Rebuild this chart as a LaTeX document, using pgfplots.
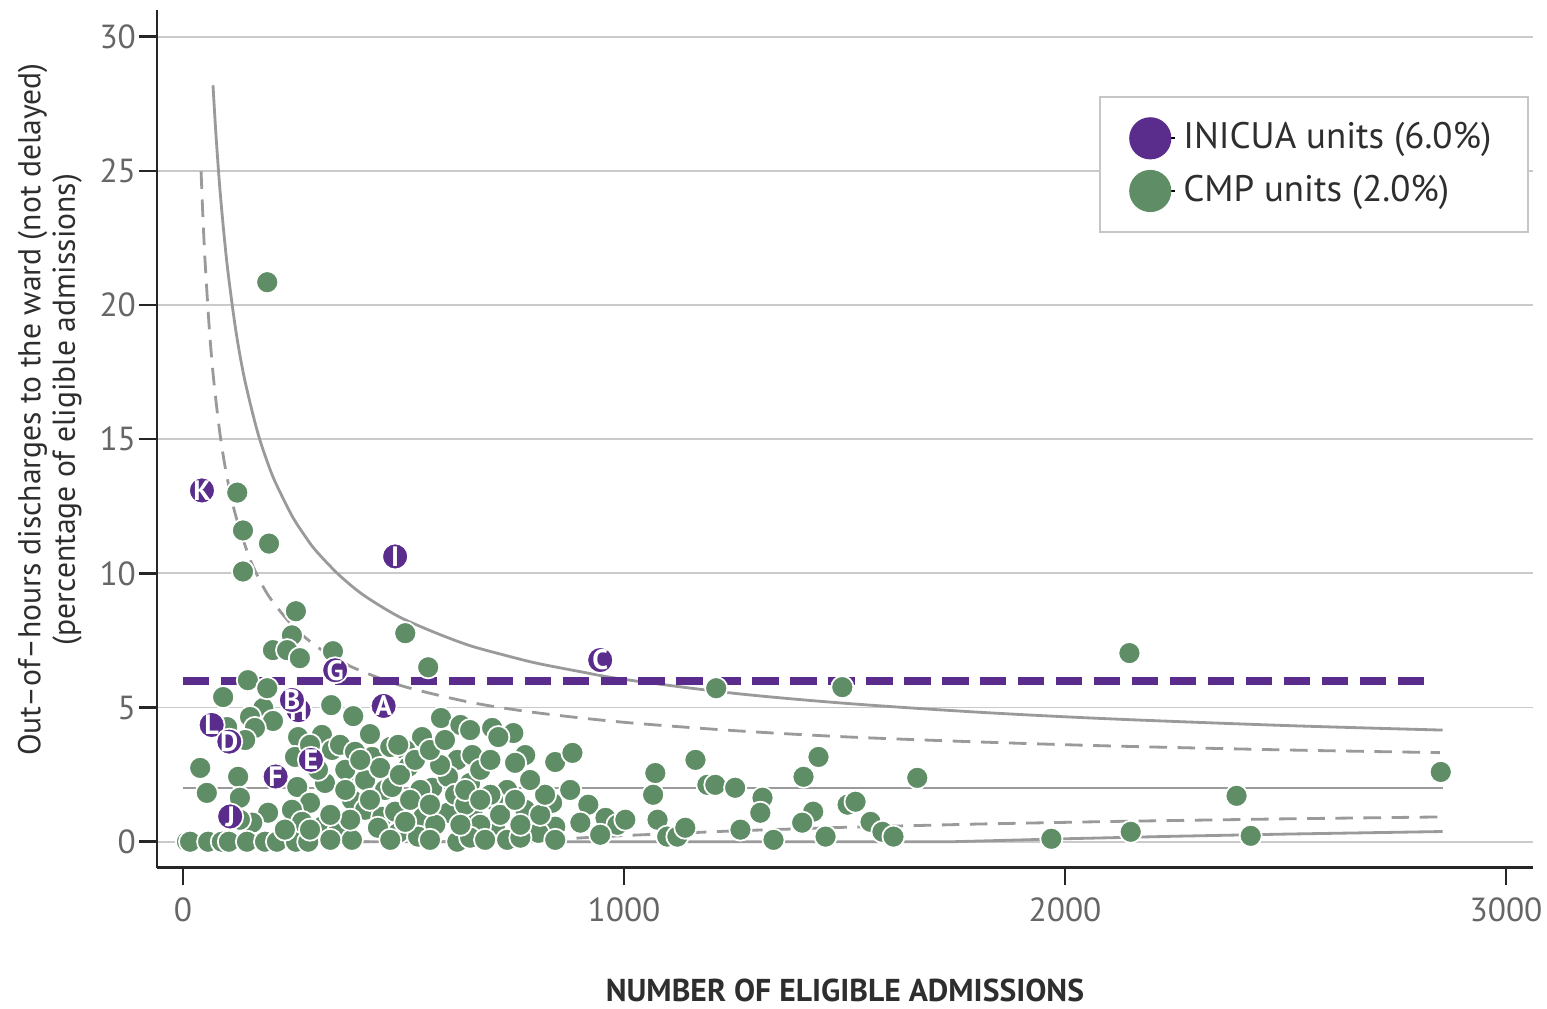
\documentclass[border=0pt]{standalone}
\usepackage{fontspec}
\setmainfont{PT Sans}
\usepackage{pgfplots}
\usepackage{pgfplotstable}
\pgfplotsset{compat=1.18}
\definecolor{inipurple}{HTML}{5A2D8C}
\definecolor{cmpgreen}{HTML}{5F8D66}
\definecolor{funnel}{HTML}{9A9A9A}
\definecolor{gridc}{HTML}{CACACA}
\definecolor{tickc}{HTML}{666666}
\definecolor{labc}{HTML}{2E2E2E}

\pgfplotstableread{
n y
191 20.85
123 13.01
136 11.60
195 11.11
136 10.07
256 8.59
247 7.69
204 7.14
236 7.14
265 6.84
340 7.10
504 7.77
556 6.50
147 6.02
91 5.39
336 5.09
386 4.68
424 4.01
585 4.61
1209 5.72
1495 5.76
2146 7.03
182 4.98
191 5.72
152 4.65
204 4.50
163 4.24
141 3.79
100 4.27
261 3.90
315 3.98
338 3.42
254 3.16
39 2.75
125 2.42
54 1.82
129 1.64
259 2.04
288 1.45
322 2.19
383 2.68
429 3.16
458 1.93
193 1.08
247 1.19
157 0.71
315 0.56
352 0.37
383 1.56
413 1.19
452 0.93
383 0.07
9 0
16 0
57 0
88 0
104 0
145 0
186 0
213 0
256 0
284 0
629 4.35
651 4.16
701 4.24
749 4.05
715 3.90
776 3.23
753 2.94
844 2.97
883 3.31
542 3.90
504 3.42
470 3.53
622 3.05
656 3.23
511 2.79
565 2.01
474 2.04
651 2.19
601 2.42
735 1.93
703 1.56
776 1.19
837 1.45
878 1.93
919 1.38
901 0.71
958 0.89
481 1.12
545 0.93
601 1.08
658 0.93
708 0.63
844 0.56
806 0.33
488 0.33
533 0.19
622 0
735 0.07
844 0.07
985 0.63
1071 2.56
1162 3.05
1189 2.12
1207 2.12
1252 2.01
1314 1.64
1309 1.08
1066 1.75
1076 0.82
1098 0.19
1121 0.19
1139 0.52
1264 0.45
1339 0.07
1407 2.42
1441 3.16
1429 1.12
1404 0.71
1457 0.19
1507 1.38
1525 1.49
1559 0.74
1586 0.37
1611 0.19
1665 2.38
1969 0.11
2149 0.37
2389 1.71
2421 0.22
2852 2.60
356 3.61
390 3.35
368 2.68
413 2.30
447 2.75
492 2.49
526 3.05
538 1.93
583 2.86
617 1.75
674 2.68
697 1.75
379 0.82
424 1.56
442 0.52
515 1.56
572 0.63
640 1.38
674 0.63
719 1.00
753 1.56
810 1.00
470 0.07
560 0.07
651 0.15
685 0.07
765 0.15
306 2.68
288 3.61
334 1.00
270 0.74
231 0.45
129 0.82
368 1.93
402 3.05
488 3.61
560 3.42
594 3.79
640 1.93
674 1.56
560 1.38
504 0.74
629 0.63
765 0.63
821 1.75
697 3.05
787 2.30
288 0.45
334 0.07
946 0.26
1003 0.82
}\cmpdata

\pgfplotstableread{
n y label
43 13.09 K
481 10.63 I
946 6.77 C
345 6.39 G
262 4.90 H
247 5.28 B
455 5.06 A
65 4.35 L
105 3.73 D
290 3.05 E
210 2.43 F
107 0.94 J
}\inidata

\begin{document}
\begin{tikzpicture}
\path[use as bounding box] (-44.67pt,-40.1pt) rectangle (395.5pt,246.9pt);
\begin{axis}[
  scale only axis, width=391.5pt, height=244.1pt,
  at={(0pt,0pt)}, anchor=south west,
  xmin=-59, xmax=3061, ymin=-0.97, ymax=31.0,
  axis x line=bottom, axis y line=left,
  axis line style={-, line width=0.8pt, black!85},
  tick align=outside, major tick length=5pt,
  tick style={black!85, line width=0.7pt},
  xtick={0,1000,2000,3000}, ytick={0,5,...,30},
  ymajorgrids, grid style={gridc, line width=0.5pt},
  /pgf/number format/assume math mode=true,
  /pgf/number format/1000 sep={},
  ticklabel style={font=\fontsize{9.5}{9.5}\selectfont, text=tickc},
  yticklabel style={inner xsep=0.8pt},
  xlabel={NUMBER OF ELIGIBLE ADMISSIONS},
  xlabel style={font=\bfseries\fontsize{9}{9}\selectfont, text=labc, at={(axis description cs:0.5,-0.143)}, anchor=center},
  ylabel={Out--of--hours discharges to the ward (not delayed)\\(percentage of eligible admissions)},
  ylabel style={font=\fontsize{9}{9.8}\selectfont, text=labc, align=center, at={(axis description cs:-0.0778,0.534)}, anchor=center, rotate=0},
  legend style={at={(0.6846,0.8998)}, anchor=north west, draw=gray!45, line width=0.6pt,
    font=\fontsize{10.5}{11}\selectfont, text=labc, inner xsep=8.3pt, inner ysep=5.3pt,
    row sep=2pt, cells={anchor=west}},
  legend cell align=left,
]
\addlegendimage{legend image code/.code={\path (0.3cm-5.7pt,0cm) -- (0.3cm+7.1pt,0cm);\fill[inipurple] (0.3cm,0cm) circle (5.7pt);}}
\addlegendentry{INICUA units (6.0\%)}
\addlegendimage{legend image code/.code={\path (0.3cm-5.7pt,0cm) -- (0.3cm+7.1pt,0cm);\fill[cmpgreen] (0.3cm,0cm) circle (5.7pt);}}
\addlegendentry{CMP units (2.0\%)}

% funnel: centre line
\addplot[funnel, line width=0.8pt] coordinates {(0,2) (2856,2)};
% upper 99.8% limit
\addplot[funnel, line width=0.8pt, smooth] coordinates {
(68,28.19) (75,26.28) (85,24.06) (100,21.51) (120,19.03) (140,17.21) (170,15.21)
(200,13.76) (225,12.86) (250,12.06) (275,11.43) (300,10.87) (350,10.00) (400,9.30)
(450,8.76) (500,8.30) (575,7.77) (650,7.31) (725,6.97) (800,6.66) (900,6.34)
(1000,6.05) (1250,5.53) (1500,5.16) (1800,4.83) (2100,4.58) (2500,4.33) (2856,4.16)};
% upper 95% limit
\addplot[funnel, line width=0.8pt, smooth, dash pattern=on 5pt off 3pt] coordinates {
(41,24.98) (45,23.34) (50,21.64) (60,19.04) (70,17.14) (85,15.06) (100,13.57)
(120,12.12) (150,10.61) (175,9.71) (200,9.02) (250,8.02) (300,7.31) (350,6.79)
(400,6.39) (500,5.79) (650,5.20) (800,4.81) (1000,4.45) (1250,4.14) (1500,3.91)
(1800,3.72) (2100,3.57) (2500,3.42) (2850,3.32)};
% lower 95% limit
\addplot[funnel, line width=0.8pt, dash pattern=on 5pt off 3pt] coordinates {
(0,0) (770,0) (800,0.035) (900,0.14) (1000,0.229) (1250,0.405) (1500,0.537)
(1800,0.658) (2100,0.753) (2500,0.853) (2850,0.923)};
% lower 99.8% limit
\addplot[funnel, line width=0.8pt] coordinates {
(0,0) (1746,0) (2000,0.11) (2250,0.204) (2500,0.284) (2856,0.38)};

% CMP units
\addplot[only marks, mark=*, mark size=3.15pt, mark options={fill=cmpgreen, draw=white, line width=0.5pt}]
  table[x=n, y=y] {\cmpdata};

% INICUA average
\addplot[inipurple, line width=2.3pt, dash pattern=on 7.5pt off 3.3pt] coordinates {(0,6) (2840,6)};

% INICUA units
\addplot[only marks, mark=*, mark size=3.7pt, mark options={fill=inipurple, draw=white, line width=0.5pt},
  point meta=explicit symbolic, nodes near coords,
  nodes near coords style={anchor=center, inner sep=0pt, text=white, font=\bfseries\fontsize{8}{8}\selectfont}]
  table[x=n, y=y, meta=label] {\inidata};
\end{axis}
\end{tikzpicture}
\end{document}
